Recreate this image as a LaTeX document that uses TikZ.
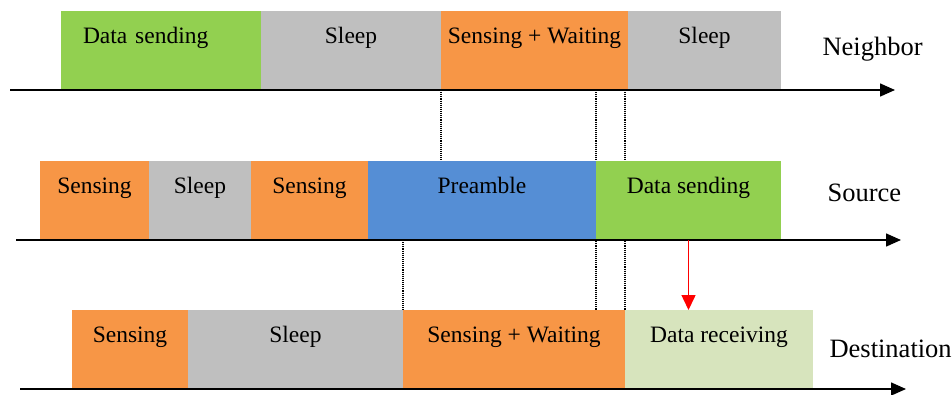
\documentclass[tikz,border=0pt]{standalone}
\usepackage{fontspec}
\setmainfont{Liberation Serif}
\usepackage{tikz}
\usetikzlibrary{positioning, backgrounds, arrows.meta}
\definecolor{send}{RGB}{146, 208, 80}
\definecolor{idle}{RGB}{191, 191, 191}
\definecolor{sense}{RGB}{247, 150, 70}
\definecolor{pre}{RGB}{85, 142, 213}
\definecolor{recv}{RGB}{215, 228, 189}

\begin{document}
\begin{tikzpicture}[x=1pt, y=-1pt,
  block/.style={inner sep=0, outer sep=0, text height=32pt, text depth=47pt,
                font=\fontsize{23.5}{28}\selectfont},
  axis/.style={line width=1.5pt, -{Triangle[length=15pt, width=13pt]}},
  tag/.style={anchor=base west, font=\fontsize{26.5}{32}\selectfont},
  sync/.style={densely dotted, line width=1.1pt}]

  \useasboundingbox (0, 0) rectangle (952, 394);

  % neighbor
  \node [block, fill=send, minimum width=200pt, text width=156pt, align=left,
         anchor=south west] (nds) at (61, 90) {Data sending};
  \node [block, fill=idle, minimum width=180pt, right=0pt of nds] (nsl) {Sleep};
  \node [block, fill=sense, minimum width=187pt, right=0pt of nsl] (nsw) {Sensing + Waiting};
  \node [block, fill=idle, minimum width=153pt, right=0pt of nsw] (nsl2) {Sleep};

  \coordinate (na) at (10, 90);
  \coordinate (nb) at (895, 90);
  \draw [axis] (na) -- (nb);
  \node [tag] (lnb) at (819, 55) {Neighbor};

  % source
  \node [block, fill=sense, minimum width=109pt, anchor=south west] (sse) at (40, 240) {Sensing};
  \node [block, fill=idle, minimum width=102pt, right=0pt of sse] (ssl) {Sleep};
  \node [block, fill=sense, minimum width=117pt, right=0pt of ssl] (sse2) {Sensing};
  \node [block, fill=pre, minimum width=228pt, right=0pt of sse2] (spre) {Preamble};
  \node [block, fill=send, minimum width=185pt, right=0pt of spre] (sds) {Data sending};

  \coordinate (sa) at (16, 240);
  \coordinate (sb) at (901, 240);
  \draw [axis] (sa) -- (sb);
  \node [tag] (lsrc) at (824, 201) {Source};

  % destination
  \node [block, fill=sense, minimum width=116pt, anchor=south west] (dse) at (72, 389) {Sensing};
  \node [block, fill=idle, minimum width=215pt, right=0pt of dse] (dsl) {Sleep};
  \node [block, fill=sense, minimum width=222pt, right=0pt of dsl] (dsw) {Sensing + Waiting};
  \node [block, fill=recv, minimum width=188pt, right=0pt of dsw] (drv) {Data receiving};

  \coordinate (da) at (20, 389);
  \coordinate (db) at (906, 389);
  \draw [axis] (da) -- (db);
  \node [tag] (ldst) at (826, 357) {Destination};

  %
  \begin{scope}[on background layer]
    \draw [sync] (nsw.south west) -- (nsw.south west |- spre.north);
    \draw [sync] (spre.south east |- nsw.south) -- (spre.south east |- dsw.north);
    \draw [sync] (dsw.north east |- nsw.south) -- (dsw.north east);
    \draw [sync] (dsw.north west |- sa) -- (dsw.north west);
  \end{scope}

  \draw [red, line width=1.5pt, -{Triangle[length=15pt, width=14pt]}] (sds.south) -- (sds.south |- drv.north);

\end{tikzpicture}
\end{document}
